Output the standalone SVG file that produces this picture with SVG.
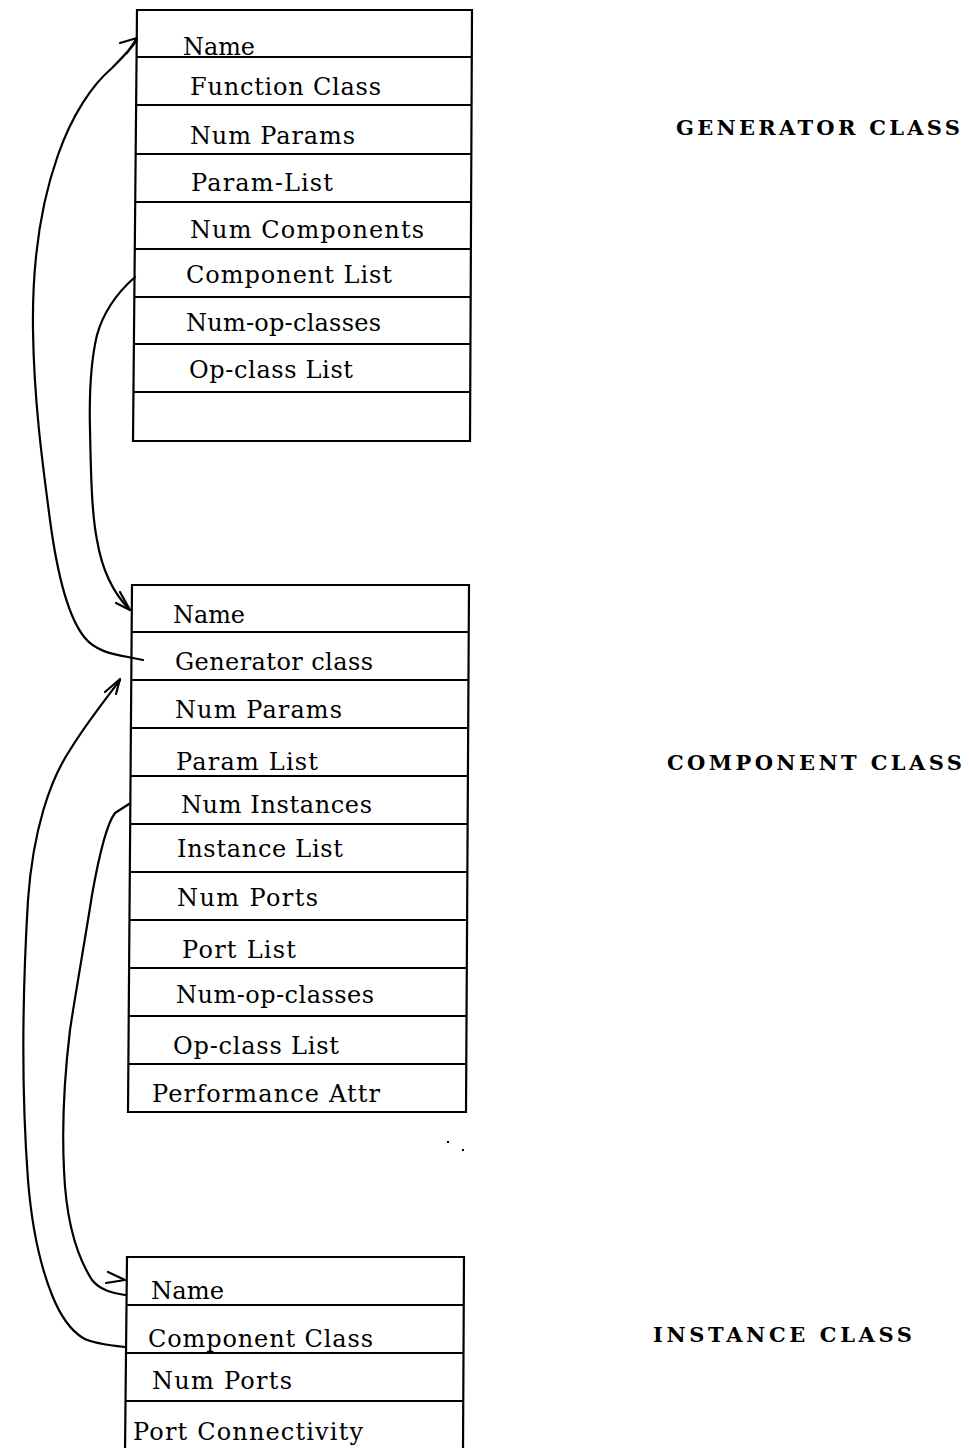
<svg xmlns="http://www.w3.org/2000/svg" width="969" height="1448" viewBox="0 0 969 1448">
<style>
.box{fill:none;stroke:#000;stroke-width:2.2}
.row{stroke:#000;stroke-width:2.2}
.t{font-family:"DejaVu Serif","Liberation Serif",serif;font-size:24px;fill:#000}
.lbl{font-family:"DejaVu Serif","Liberation Serif",serif;font-size:21px;font-weight:bold;fill:#000}
.c{fill:none;stroke:#000;stroke-width:2.2;stroke-linecap:round;stroke-linejoin:round}
</style>
<rect width="969" height="1448" fill="#fff"/>
<g id="generator-class">
<polygon class="box" points="137,10 472,10 470,441 133,441"/>
<line class="row" x1="136.6" y1="57" x2="471.8" y2="57"/>
<line class="row" x1="136.1" y1="105" x2="471.6" y2="105"/>
<line class="row" x1="135.7" y1="154" x2="471.3" y2="154"/>
<line class="row" x1="135.2" y1="202" x2="471.1" y2="202"/>
<line class="row" x1="134.8" y1="249" x2="470.9" y2="249"/>
<line class="row" x1="134.3" y1="297" x2="470.7" y2="297"/>
<line class="row" x1="133.9" y1="344" x2="470.5" y2="344"/>
<line class="row" x1="133.5" y1="392" x2="470.2" y2="392"/>
<text class="t" x="183" y="55" textLength="72" lengthAdjust="spacingAndGlyphs">Name</text>
<text class="t" x="190" y="95" textLength="191" lengthAdjust="spacing">Function Class</text>
<text class="t" x="190" y="144" textLength="165" lengthAdjust="spacing">Num Params</text>
<text class="t" x="191" y="191" textLength="142" lengthAdjust="spacing">Param-List</text>
<text class="t" x="190" y="238" textLength="234" lengthAdjust="spacing">Num Components</text>
<text class="t" x="186" y="283" textLength="206" lengthAdjust="spacing">Component List</text>
<text class="t" x="186" y="331" textLength="195" lengthAdjust="spacing">Num-op-classes</text>
<text class="t" x="189" y="378" textLength="164" lengthAdjust="spacing">Op-class List</text>
</g>
<g id="component-class">
<polygon class="box" points="132,585 469,585 466,1112 128,1112"/>
<line class="row" x1="131.6" y1="632" x2="468.7" y2="632"/>
<line class="row" x1="131.3" y1="680" x2="468.5" y2="680"/>
<line class="row" x1="130.9" y1="728" x2="468.2" y2="728"/>
<line class="row" x1="130.6" y1="776" x2="467.9" y2="776"/>
<line class="row" x1="130.2" y1="824" x2="467.6" y2="824"/>
<line class="row" x1="129.8" y1="872" x2="467.4" y2="872"/>
<line class="row" x1="129.5" y1="920" x2="467.1" y2="920"/>
<line class="row" x1="129.1" y1="968" x2="466.8" y2="968"/>
<line class="row" x1="128.7" y1="1016" x2="466.5" y2="1016"/>
<line class="row" x1="128.4" y1="1064" x2="466.3" y2="1064"/>
<text class="t" x="173" y="623" textLength="72" lengthAdjust="spacingAndGlyphs">Name</text>
<text class="t" x="175" y="670" textLength="198" lengthAdjust="spacing">Generator class</text>
<text class="t" x="175" y="718" textLength="167" lengthAdjust="spacing">Num Params</text>
<text class="t" x="176" y="770" textLength="142" lengthAdjust="spacing">Param List</text>
<text class="t" x="181" y="813" textLength="191" lengthAdjust="spacing">Num Instances</text>
<text class="t" x="177" y="857" textLength="166" lengthAdjust="spacing">Instance List</text>
<text class="t" x="177" y="906" textLength="141" lengthAdjust="spacing">Num Ports</text>
<text class="t" x="182" y="958" textLength="114" lengthAdjust="spacing">Port List</text>
<text class="t" x="176" y="1003" textLength="198" lengthAdjust="spacing">Num-op-classes</text>
<text class="t" x="173" y="1054" textLength="166" lengthAdjust="spacing">Op-class List</text>
<text class="t" x="152" y="1102" textLength="228" lengthAdjust="spacing">Performance Attr</text>
</g>
<g id="instance-class">
<polyline class="box" points="125,1452 127,1257 464,1257 463,1452"/>
<line class="row" x1="126.5" y1="1305" x2="463.8" y2="1305"/>
<line class="row" x1="126" y1="1353" x2="463.5" y2="1353"/>
<line class="row" x1="125.5" y1="1401" x2="463.3" y2="1401"/>
<text class="t" x="151" y="1299" textLength="73" lengthAdjust="spacingAndGlyphs">Name</text>
<text class="t" x="148" y="1347" textLength="225" lengthAdjust="spacing">Component Class</text>
<text class="t" x="152" y="1389" textLength="140" lengthAdjust="spacing">Num Ports</text>
<text class="t" x="133" y="1440" textLength="230" lengthAdjust="spacing">Port Connectivity</text>
</g>
<g id="labels">
<text class="lbl" x="676" y="135" textLength="284" lengthAdjust="spacing">GENERATOR CLASS</text>
<text class="lbl" x="667" y="770" textLength="295" lengthAdjust="spacing">COMPONENT CLASS</text>
<text class="lbl" x="653" y="1342" textLength="259" lengthAdjust="spacing">INSTANCE CLASS</text>
</g>
<g id="connectors">
<path class="c" d="M143,660 L128,657 C110,654 95,650 85,638 C70,620 58,580 50,520 C42,460 34,400 33,330 C32,260 42,200 58,155 C72,115 92,85 112,68 C122,58 130,50 137,40"/>
<path class="c" d="M120,43 L137,38 L127,53"/>
<path class="c" d="M135,277 C118,292 104,310 97,335 C91,360 89,390 90,430 C91,480 92,515 97,540 C102,570 112,592 130,610"/>
<path class="c" d="M120,592 L130,610 L116,603"/>
<path class="c" d="M129,804 L115,813 C108,822 100,850 92,895 C85,940 76,990 70,1030 C64,1080 62,1130 64,1170 C66,1220 76,1255 92,1280 C100,1290 112,1293 125,1295"/>
<path class="c" d="M108,1272 L125,1280 L106,1283"/>
<path class="c" d="M125,1347 C105,1345 92,1343 83,1338 C70,1330 60,1315 52,1295 C40,1265 32,1230 28,1180 C22,1100 22,1000 28,900 C33,830 50,780 70,750 C85,725 105,700 120,680"/>
<path class="c" d="M105,692 L120,679 L116,694"/>
</g>
<g id="dots">
<rect x="447" y="1141" width="2" height="2" fill="#000"/>
<rect x="462" y="1149" width="2" height="2" fill="#000"/>
</g>
</svg>
